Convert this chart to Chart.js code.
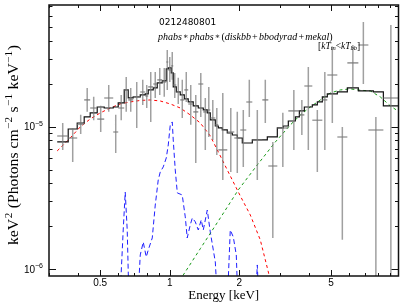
<!DOCTYPE html>
<html><head><meta charset="utf-8">
<script src="https://cdn.jsdelivr.net/npm/chart.js@4.4.0/dist/chart.umd.min.js"></script>
<style>html,body{margin:0;padding:0;background:#fff;} canvas{display:block}</style>
</head><body>
<canvas id="c" width="407" height="307"></canvas>
<script>
// ---- model (folded total) histogram: bin edges [keV] and flux
const modelEdges = [0.3256,0.3634,0.3975,0.4262,0.4524,0.4853,0.5204,0.5693,0.5984,0.6353,0.6612,0.6950,0.7454,0.7834,0.8073,0.8487,0.8832,0.9284,0.9663,0.9858,1.0157,1.036,1.068,1.111,1.157,1.203,1.265,1.330,1.398,1.455,1.499,1.576,1.624,1.690,1.776,1.867,1.963,2.063,2.280,2.648,2.926,3.106,3.265,3.502,3.645,3.831,4.148,4.361,4.584,4.818,5.324,5.883,6.566,7.626,8.427,9.788];
const modelFlux = [7.81e-6,9.63e-6,1.061e-5,1.170e-5,1.248e-5,1.374e-5,1.352e-5,1.374e-5,1.466e-5,1.809e-5,1.590e-5,1.615e-5,1.669e-5,1.696e-5,1.809e-5,1.868e-5,2.025e-5,2.092e-5,2.539e-5,2.580e-5,2.380e-5,1.898e-5,1.751e-5,1.669e-5,1.564e-5,1.490e-5,1.397e-5,1.352e-5,1.310e-5,1.248e-5,1.114e-5,1.011e-5,9.79e-6,9.48e-6,9.03e-6,8.74e-6,8.33e-6,7.68e-6,8.07e-6,8.47e-6,9.79e-6,1.011e-5,1.096e-5,1.170e-5,1.289e-5,1.374e-5,1.420e-5,1.490e-5,1.615e-5,1.696e-5,1.751e-5,1.868e-5,1.780e-5,1.751e-5,1.397e-5];

// ---- data points: bin edges, value, lower and upper error limits
const dataEdges = [0.3256,0.3634,0.3975,0.4262,0.4524,0.4853,0.5204,0.5693,0.5984,0.6353,0.6612,0.6950,0.7454,0.7834,0.8073,0.8487,0.8832,0.9284,0.9663,0.9858,1.0157,1.036,1.068,1.111,1.157,1.203,1.265,1.330,1.398,1.455,1.499,1.576,1.624,1.776,1.905,2.022,2.147,2.280,2.519,2.674,2.926,3.265,3.645,3.831,4.148,4.584,4.818,5.324,5.883,6.566,7.256,8.427,9.788];
const dataFlux = [8.61e-6,8.33e-6,1.04e-5,1.54e-5,1.35e-5,1.13e-5,1.59e-5,9.18e-6,1.35e-5,1.81e-5,1.54e-5,1.62e-5,1.75e-5,1.64e-5,1.90e-5,1.99e-5,2.13e-5,2.06e-5,2.84e-5,2.50e-5,2.67e-5,1.96e-5,1.75e-5,1.54e-5,1.81e-5,1.44e-5,1.27e-5,1.99e-5,1.27e-5,1.31e-5,1.15e-5,1.03e-5,6.87e-6,9.18e-6,8.33e-6,9.48e-6,1.49e-5,8.07e-6,1.54e-5,5.30e-6,9.79e-6,1.29e-5,1.21e-5,1.93e-5,1.11e-5,1.54e-5,2.30e-5,8.47e-6,2.80e-5,3.74e-5,9.48e-6,1.59e-5];
const dataLow = [6.87e-6,5.66e-6,8.89e-6,1.27e-5,1.11e-5,9.18e-6,1.27e-5,6.54e-6,1.11e-5,1.27e-5,1.27e-5,9.79e-6,1.42e-5,1.35e-5,1.08e-5,1.59e-5,1.67e-5,1.62e-5,1.81e-5,2.06e-5,2.13e-5,1.59e-5,1.44e-5,1.15e-5,1.49e-5,1.03e-5,5.56e-6,1.17e-5,6.87e-6,8.47e-6,8.07e-6,6.33e-6,4.23e-6,4.81e-6,4.73e-6,5.22e-6,1.17e-5,4.23e-6,1.06e-5,1.66e-6,5.22e-6,6.87e-6,8.74e-6,6.87e-6,4.81e-6,6.87e-6,1.06e-5,1.61e-6,1.90e-5,1.99e-5,5e-7,5e-7];
const dataHigh = [1.06e-5,9.79e-6,1.21e-5,1.87e-5,1.62e-5,1.40e-5,1.96e-5,1.21e-5,1.67e-5,2.23e-5,1.87e-5,2.06e-5,2.13e-5,1.96e-5,2.42e-5,2.42e-5,2.58e-5,2.58e-5,3.45e-5,3.08e-5,3.34e-5,2.38e-5,2.20e-5,2.13e-5,2.42e-5,1.96e-5,1.67e-5,2.38e-5,1.59e-5,1.90e-5,1.54e-5,1.35e-5,1.72e-5,1.35e-5,1.27e-5,1.31e-5,2.13e-5,1.31e-5,2.13e-5,7.81e-6,1.25e-5,1.81e-5,1.54e-5,2.62e-5,1.31e-5,2.42e-5,3.62e-5,9.95e-6,3.74e-5,5.42e-5,1.17e-5,5.17e-5];

// ---- model components
const diskbbE = [0.3256,0.3355,0.3707,0.4095,0.4525,0.5,0.5525,0.6105,0.6745,0.7454,0.8236,0.910,1.006,1.111,1.228,1.357,1.499,1.657,1.830,2.022,2.235,2.469,2.675,2.80];
const diskbbF = [6.76e-6,7.09e-6,8.33e-6,9.95e-6,1.132e-5,1.248e-5,1.352e-5,1.443e-5,1.490e-5,1.527e-5,1.539e-5,1.514e-5,1.443e-5,1.352e-5,1.208e-5,1.061e-5,8.61e-6,6.23e-6,4.51e-6,3.27e-6,2.40e-6,1.605e-6,9.57e-7,6.9e-7];
const bbodyE = [1.111,1.145,1.357,1.657,1.982,2.396,2.869,3.331,3.680,4.067,4.494,4.966,5.487,6.063,6.699,7.403,8.180,9.036,9.886];
const bbodyF = [8.3e-7,9.12e-7,1.394e-6,2.29e-6,3.60e-6,5.39e-6,7.81e-6,1.028e-5,1.208e-5,1.374e-5,1.539e-5,1.723e-5,1.809e-5,1.84e-5,1.80e-5,1.78e-5,1.615e-5,1.397e-5,1.268e-5];
const mekalE = [0.605,0.6290,0.6417,0.6546,0.6679,0.7236,0.7455,0.7681,0.7914,0.8074,0.8403,0.8659,0.8920,0.9101,0.9377,0.9663,0.9858,1.0056,1.0259,1.036,1.057,1.079,1.133,1.168,1.191,1.228,1.253,1.291,1.330,1.370,1.398,1.455,1.499,1.545,1.576,1.620,1.770,1.830,1.886,1.943,1.982,2.340,2.396,2.444];
const mekalF = [5e-7,1.886e-6,3.48e-6,1.886e-6,5e-7,5e-7,1.260e-6,1.553e-6,1.220e-6,1.366e-6,1.658e-6,2.82e-6,4.23e-6,4.81e-6,5.22e-6,6.03e-6,7.44e-6,1.028e-5,1.079e-5,8.07e-6,4.97e-6,3.43e-6,3.32e-6,2.33e-6,1.658e-6,2.05e-6,2.29e-6,2.15e-6,1.886e-6,2.22e-6,1.886e-6,2.60e-6,1.827e-6,1.366e-6,1.125e-6,5e-7,5e-7,1.886e-6,1.684e-6,1.260e-6,5e-7,5e-7,1.072e-6,5e-7];

// ---- axes
const xRange = [0.3, 9.8];
const yRange = [8.97e-7, 7.13e-5];
const xMajorTicks = [0.5, 1, 2, 5];
const xTickLabels = ['0.5', '1', '2', '5'];
const xMinorTicks = [0.3,0.4,0.6,0.7,0.8,0.9,3,4,6,7,8,9];
const yMajorTicks = [1e-6, 1e-5];
const yTickLabels = [['10','\u22126'], ['10','\u22125']];
const yMinorTicks = [2e-6,3e-6,4e-6,5e-6,6e-6,7e-6,8e-6,9e-6,2e-5,3e-5,4e-5,5e-5,6e-5,7e-5];

// ---- build datasets
const modelPts = modelFlux.map((f,i)=>({x:modelEdges[i], y:f}));
modelPts.push({x:modelEdges[modelEdges.length-1], y:modelFlux[modelFlux.length-1]});
const hBars = [], vBars = [];
dataFlux.forEach((f,i)=>{
  const lo = dataEdges[i], hi = dataEdges[i+1], c = Math.sqrt(lo*hi);
  hBars.push({x:lo,y:f},{x:hi,y:f},{x:hi,y:null});
  vBars.push({x:c,y:dataLow[i]},{x:c,y:dataHigh[i]},{x:c,y:null});
});
const curve = (E,F)=>E.map((e,i)=>({x:e,y:F[i]}));

const frame = {
  id:'frame',
  afterDraw(chart){
    const ctx = chart.ctx, a = chart.chartArea, xs = chart.scales.x, ys = chart.scales.y;
    ctx.save();
    ctx.strokeStyle = '#111'; ctx.lineWidth = 1;
    const tick = (x1,y1,x2,y2)=>{ctx.beginPath();ctx.moveTo(x1,y1);ctx.lineTo(x2,y2);ctx.stroke();};
    xMajorTicks.forEach(v=>{const p=Math.round(xs.getPixelForValue(v))+0.5; tick(p,a.bottom,p,a.bottom-6); tick(p,a.top,p,a.top+6);});
    xMinorTicks.forEach(v=>{const p=Math.round(xs.getPixelForValue(v))+0.5; tick(p,a.bottom,p,a.bottom-3); tick(p,a.top,p,a.top+3);});
    yMajorTicks.forEach(v=>{const p=Math.round(ys.getPixelForValue(v))+0.5; tick(a.left,p,a.left+7,p); tick(a.right,p,a.right-7,p);});
    yMinorTicks.forEach(v=>{const p=Math.round(ys.getPixelForValue(v))+0.5; tick(a.left,p,a.left+3.5,p); tick(a.right,p,a.right-3.5,p);});
    ctx.lineWidth = 1.5; ctx.strokeStyle = '#111';
    ctx.strokeRect(a.left, a.top, a.right-a.left, a.bottom-a.top);
    ctx.fillStyle = '#000';
    ctx.font = "10px 'Liberation Sans'"; ctx.textAlign='center'; ctx.textBaseline='middle';
    xMajorTicks.forEach((v,i)=>ctx.fillText(xTickLabels[i], xs.getPixelForValue(v), a.bottom+7));
    yMajorTicks.forEach((v,i)=>{
      const p = ys.getPixelForValue(v);
      ctx.font = "10px 'Liberation Sans'"; const w1 = ctx.measureText(yTickLabels[i][0]).width;
      ctx.font = "7px 'Liberation Sans'"; const w2 = ctx.measureText(yTickLabels[i][1]).width;
      const x0 = a.left - 6 - w1 - w2;
      ctx.textAlign='left';
      ctx.font = "10px 'Liberation Sans'"; ctx.fillText(yTickLabels[i][0], x0, p+1);
      ctx.font = "7px 'Liberation Sans'"; ctx.fillText(yTickLabels[i][1], x0+w1, p-3);
    });
    // axis titles
    ctx.textAlign='center';
    ctx.font = "13px 'Liberation Serif'";
    ctx.fillText('Energy [keV]', (a.left+a.right)/2, 296);
    const segs = [['keV',0],['2',1],[' (Photons cm',0],['\u22122',1],[' s',0],['\u22121',1],[' keV',0],['\u22121',1],[')',0]];
    ctx.save(); ctx.translate(14, 145); ctx.rotate(-Math.PI/2);
    const fMain = "14px 'Liberation Serif'", fSup = "10px 'Liberation Serif'";
    let tw = 0; segs.forEach(s=>{ctx.font = s[1] ? fSup : fMain; tw += ctx.measureText(s[0]).width + (s[1]?1:0);});
    const k = 200/tw; ctx.scale(k, 1);
    let cx = -tw/2; ctx.textAlign='left';
    segs.forEach(s=>{ctx.font = s[1] ? fSup : fMain; ctx.fillText(s[0], cx + (s[1]?0.5:0), s[1]? -5 : 0); cx += ctx.measureText(s[0]).width + (s[1]?1:0);});
    ctx.restore();
    // annotations
    ctx.textAlign='left';
    ctx.font = "9px 'DejaVu Sans'";
    ctx.fillText('0212480801', 159, 23);
    // model expression: italic names, upright operators
    const expr = [['phabs',1],['\u2217',2],['phabs',1],['\u2217',2],['(',0],['diskbb',1],['+',0],['bbodyrad',1],['+',0],['mekal',1],[')',0]];
    const fonts = ["10px 'Liberation Serif'", "italic 10px 'Liberation Serif'", "8px 'DejaVu Serif'"];
    const pad = e => (e[0]==='+'||e[0]==='\u2217') ? 2.4 : 0;
    let ew = 0; expr.forEach(e=>{ctx.font = fonts[e[1]]; ew += ctx.measureText(e[0]).width + pad(e);});
    ctx.save(); ctx.translate(158, 37); ctx.scale(Math.min(1, 176/ew), 1);
    let ex = 0; expr.forEach(e=>{ctx.font = fonts[e[1]]; ctx.fillText(e[0], ex + pad(e)/2, 0); ex += ctx.measureText(e[0]).width + pad(e);});
    ctx.restore();
    let x = 318; const yb = 46;
    const put = (t, font, dy)=>{ctx.font = font; ctx.fillText(t, x, yb+dy); x += ctx.measureText(t).width;};
    put('[', "9.5px 'Liberation Serif'", 0);
    put('kT', "italic 9.5px 'Liberation Serif'", 0);
    put('in', "italic 6.5px 'Liberation Serif'", 2.5);
    put('<', "9.5px 'Liberation Serif'", 0);
    put('kT', "italic 9.5px 'Liberation Serif'", 0);
    put('bb', "italic 6.5px 'Liberation Serif'", 2.5);
    put(']', "9.5px 'Liberation Serif'", 0);
    ctx.restore();
  }
};

new Chart(document.getElementById('c'), {
  type:'line',
  data:{datasets:[
    {data:hBars, borderColor:'rgba(120,120,120,0.7)', borderWidth:1.6, pointRadius:0, spanGaps:false},
    {data:vBars, borderColor:'rgba(120,120,120,0.7)', borderWidth:1.5, pointRadius:0, spanGaps:false},
    {data:modelPts, borderColor:'#111', borderWidth:1.2, pointRadius:0, stepped:'before'},
    {data:curve(diskbbE,diskbbF), borderColor:'#f00', borderWidth:1, borderDash:[3,3], pointRadius:0},
    {data:curve(bbodyE,bbodyF), borderColor:'#1a9a1a', borderWidth:1, borderDash:[3,3], pointRadius:0},
    {data:curve(mekalE,mekalF), borderColor:'#1f1fff', borderWidth:1, borderDash:[5,3], pointRadius:0}
  ]},
  options:{
    responsive:false, animation:false, devicePixelRatio:1,
    layout:{padding:{left:49, right:8.5, top:5, bottom:31}},
    plugins:{legend:{display:false}, tooltip:{enabled:false}},
    elements:{line:{tension:0, fill:false}},
    scales:{
      x:{type:'logarithmic', min:xRange[0], max:xRange[1], display:false},
      y:{type:'logarithmic', min:yRange[0], max:yRange[1], display:false}
    }
  },
  plugins:[frame]
});
</script>
</body></html>
